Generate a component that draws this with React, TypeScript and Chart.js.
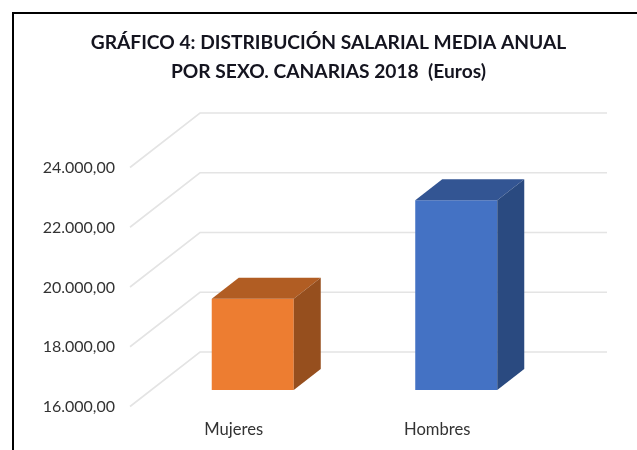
import React, { useEffect, useRef } from "react";
import { Chart, registerables } from "chart.js";

Chart.register(...registerables);

const categories = ["Mujeres", "Hombres"];
const salaries = [19055, 22355];
const frontColors = ["#ED7D31", "#4472C4"];
const topColors = ["#B15D23", "#335593"];
const sideColors = ["#964F1E", "#2A4A80"];
const titleLines = ["GRÁFICO 4: DISTRIBUCIÓN SALARIAL MEDIA ANUAL", "POR SEXO. CANARIAS 2018  (Euros)"];
const axisMin = 16000;
const axisMax = 24000;
const axisStep = 2000;

const formatTick = (v: number) => {
  const s = String(Math.round(v));
  return s.slice(0, s.length - 3) + "." + s.slice(-3) + ",00";
};

const DEPTH_X = 27;
const DEPTH_Y = 21;

const decorPlugin = {
  id: "decor",
  beforeDraw(chart: any) {
    const { ctx } = chart;
    ctx.save();
    ctx.strokeStyle = "#000000";
    ctx.lineWidth = 2;
    ctx.beginPath();
    ctx.moveTo(13, 450);
    ctx.lineTo(13, 13);
    ctx.lineTo(637, 13);
    ctx.stroke();
    ctx.restore();
  },
  beforeDatasetsDraw(chart: any) {
    const { ctx, scales } = chart;
    const yScale = scales.y;
    const area = chart.chartArea;
    ctx.save();
    ctx.strokeStyle = "#E4E4E4";
    ctx.lineWidth = 1.6;
    yScale.ticks.forEach((t: any) => {
      const y = yScale.getPixelForValue(t.value);
      ctx.beginPath();
      ctx.moveTo(area.left - 21, y + 16.5);
      ctx.lineTo(area.left + 49, y - 38);
      ctx.lineTo(area.right + 49, y - 38);
      ctx.stroke();
    });
    ctx.restore();
  },
  afterDatasetsDraw(chart: any) {
    const { ctx } = chart;
    const meta = chart.getDatasetMeta(0);
    ctx.save();
    meta.data.forEach((bar: any, i: number) => {
      const l = bar.x - bar.width / 2;
      const r = bar.x + bar.width / 2;
      const t = bar.y;
      const b = bar.base;
      ctx.fillStyle = topColors[i];
      ctx.beginPath();
      ctx.moveTo(l, t);
      ctx.lineTo(l + DEPTH_X, t - DEPTH_Y);
      ctx.lineTo(r + DEPTH_X, t - DEPTH_Y);
      ctx.lineTo(r, t);
      ctx.closePath();
      ctx.fill();
      ctx.fillStyle = sideColors[i];
      ctx.beginPath();
      ctx.moveTo(r, t);
      ctx.lineTo(r + DEPTH_X, t - DEPTH_Y);
      ctx.lineTo(r + DEPTH_X, b - DEPTH_Y);
      ctx.lineTo(r, b);
      ctx.closePath();
      ctx.fill();
    });
    ctx.restore();
  },
};

export default function App() {
  const ref = useRef<HTMLCanvasElement | null>(null);
  useEffect(() => {
    document.body.style.margin = "0";
    const chart = new Chart(ref.current as HTMLCanvasElement, {
      type: "bar",
      data: {
        labels: categories,
        datasets: [
          {
            data: salaries,
            base: axisMin,
            backgroundColor: frontColors,
            barPercentage: 0.403,
            categoryPercentage: 1,
          },
        ],
      },
      plugins: [decorPlugin],
      options: {
        animation: false,
        responsive: false,
        layout: { padding: { left: 20, right: 0, top: 0, bottom: 0 } },
        plugins: {
          legend: { display: false },
          tooltip: { enabled: false },
          title: {
            display: true,
            text: titleLines,
            color: "#14141F",
            font: { family: "Lato", size: 19.2, weight: "bold", lineHeight: 1.5 },
            padding: { top: 28.6, bottom: 64.8 },
          },
        },
        scales: {
          x: {
            grid: { display: false },
            border: { display: false },
            ticks: {
              color: "#333333",
              font: { family: "Lato", size: 16.6 },
              padding: 22,
              labelOffset: -19,
            },
            afterFit: (s: any) => {
              s.height = 60;
            },
          },
          y: {
            min: axisMin,
            max: axisMax,
            grid: { display: false },
            border: { display: false },
            ticks: {
              stepSize: axisStep,
              color: "#333333",
              font: { family: "Lato", size: 16 },
              padding: 28,
              labelOffset: 17,
              callback: (v: any) => formatTick(Number(v)),
            },
            afterFit: (s: any) => {
              s.width = 131;
            },
          },
          spacer: {
            type: "linear",
            position: "right",
            display: true,
            grid: { display: false },
            border: { display: false },
            ticks: { display: false },
            afterFit: (s: any) => {
              s.width = 79;
            },
          },
        },
      } as any,
    });
    return () => chart.destroy();
  }, []);
  return <canvas ref={ref} width={637} height={450} style={{ display: "block" }} />;
}
